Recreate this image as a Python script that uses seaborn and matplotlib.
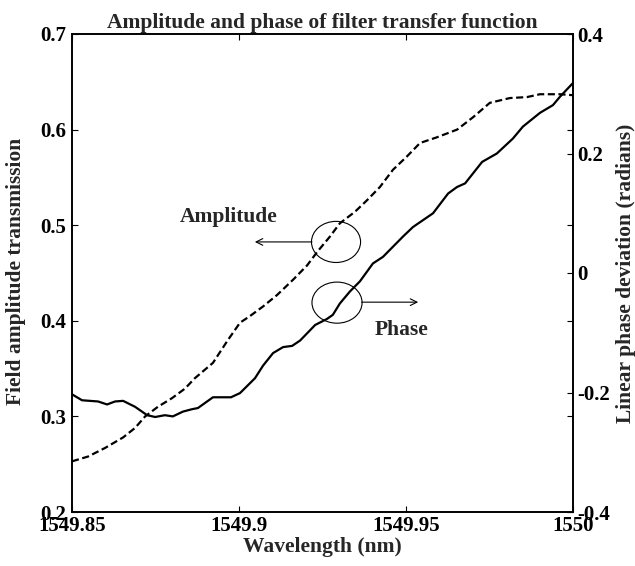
import matplotlib
matplotlib.use("Agg")
import matplotlib.pyplot as plt
from matplotlib.patches import Ellipse
import seaborn as sns
import pandas as pd

# ---------------- data ----------------
amp_wavelength = [1549.8500, 1549.8548, 1549.8599, 1549.8653, 1549.8689, 1549.8719,
                  1549.8757, 1549.8799, 1549.8838, 1549.8868, 1549.8922, 1549.8967,
                  1549.9003, 1549.9033, 1549.9072, 1549.9114, 1549.9162, 1549.9204,
                  1549.9234, 1549.9272, 1549.9302, 1549.9347, 1549.9383, 1549.9422,
                  1549.9461, 1549.9503, 1549.9542, 1549.9593, 1549.9653, 1549.9701,
                  1549.9751, 1549.9811, 1549.9862, 1549.9901, 1549.9961, 1550.0000]
amp_values = [0.253, 0.258, 0.267, 0.278, 0.288, 0.300,
              0.310, 0.319, 0.329, 0.340, 0.356, 0.380,
              0.398, 0.405, 0.415, 0.427, 0.443, 0.458,
              0.472, 0.488, 0.502, 0.514, 0.526, 0.540,
              0.558, 0.572, 0.586, 0.592, 0.600, 0.613,
              0.628, 0.633, 0.634, 0.637, 0.637, 0.636]

phase_wavelength = [1549.8500, 1549.8530, 1549.8578, 1549.8605, 1549.8629, 1549.8653,
                    1549.8689, 1549.8725, 1549.8749, 1549.8778, 1549.8802, 1549.8832,
                    1549.8859, 1549.8877, 1549.8922, 1549.8976, 1549.9003, 1549.9048,
                    1549.9072, 1549.9102, 1549.9132, 1549.9159, 1549.9183, 1549.9228,
                    1549.9263, 1549.9281, 1549.9302, 1549.9332, 1549.9362, 1549.9401,
                    1549.9431, 1549.9491, 1549.9521, 1549.9581, 1549.9626, 1549.9653,
                    1549.9677, 1549.9728, 1549.9772, 1549.9820, 1549.9850, 1549.9901,
                    1549.9940, 1549.9961, 1550.0000]
phase_values = [-0.203, -0.213, -0.215, -0.220, -0.215, -0.214,
                -0.224, -0.238, -0.241, -0.238, -0.240, -0.232,
                -0.228, -0.226, -0.208, -0.208, -0.201, -0.176,
                -0.155, -0.134, -0.124, -0.122, -0.113, -0.087,
                -0.077, -0.070, -0.051, -0.031, -0.014, 0.016,
                0.027, 0.061, 0.077, 0.100, 0.133, 0.144,
                0.150, 0.186, 0.200, 0.225, 0.245, 0.268,
                0.281, 0.295, 0.318]

x_ticks = [1549.85, 1549.9, 1549.95, 1550.0]
x_tick_labels = ["1549.85", "1549.9", "1549.95", "1550"]
left_ticks = [0.2, 0.3, 0.4, 0.5, 0.6, 0.7]
left_tick_labels = ["0.2", "0.3", "0.4", "0.5", "0.6", "0.7"]
right_ticks = [-0.4, -0.2, 0.0, 0.2, 0.4]
right_tick_labels = ["-0.4", "-0.2", "0", "0.2", "0.4"]

title_text = "Amplitude and phase of filter transfer function"
xlabel_text = "Wavelength (nm)"
left_label_text = "Field amplitude transmission"
right_label_text = "Linear phase deviation (radians)"

# ---------------- style ----------------
sns.set_theme(style="white")
plt.rcParams["font.family"] = ["Liberation Serif", "DejaVu Serif"]
plt.rcParams["font.weight"] = "bold"
plt.rcParams["axes.labelweight"] = "bold"
plt.rcParams["axes.titleweight"] = "bold"

amp_df = pd.DataFrame({"wl": amp_wavelength, "amp": amp_values})
phase_df = pd.DataFrame({"wl": phase_wavelength, "phase": phase_values})

fig = plt.figure(figsize=(6.35, 5.66), dpi=100)
W, H = 635, 566
ax_left, ax_right_px, ax_top, ax_bottom = 72, 573, 34, 512
ax = fig.add_axes([ax_left / W, 1 - ax_bottom / H,
                   (ax_right_px - ax_left) / W, (ax_bottom - ax_top) / H])
ax2 = ax.twinx()

sns.lineplot(data=amp_df, x="wl", y="amp", ax=ax, color="black",
             linewidth=1.6, linestyle=(0, (3.2, 1.6)), sort=False)
sns.lineplot(data=phase_df, x="wl", y="phase", ax=ax2, color="black",
             linewidth=1.6, linestyle="-", sort=False)

ax.set_xlim(1549.85, 1550.0)
ax.set_ylim(0.2, 0.7)
ax2.set_ylim(-0.4, 0.4)

FS_TICK = 15
FS = 15.5
ax.set_xticks(x_ticks)
ax.set_xticklabels(x_tick_labels, fontsize=FS_TICK, fontweight="bold")
ax.set_yticks(left_ticks)
ax.set_yticklabels(left_tick_labels, fontsize=FS_TICK, fontweight="bold")
ax2.set_yticks(right_ticks)
ax2.set_yticklabels(right_tick_labels, fontsize=FS_TICK, fontweight="bold")

ax.tick_params(axis="both", direction="in", length=4, width=0.8, colors="black",
               top=True, right=True, bottom=True, left=True, pad=3)
ax.tick_params(axis="y", pad=4)
ax2.tick_params(axis="y", direction="in", length=4, width=0.8, colors="black",
                left=False, right=True, pad=3)

for a in (ax, ax2):
    for s in a.spines.values():
        s.set_color("black")
        s.set_linewidth(1.2)

ax.set_xlabel(xlabel_text, fontsize=FS, fontweight="bold")
ax.set_ylabel(left_label_text, fontsize=FS, fontweight="bold")
ax2.set_ylabel(right_label_text, fontsize=FS, fontweight="bold")
ax.xaxis.set_label_coords(0.5, -0.053)
ax.yaxis.set_label_coords(-0.092, 0.503)
ax2.yaxis.set_label_coords(1.086, 0.5)
ax.set_title(title_text, fontsize=FS, fontweight="bold", pad=4)

# ---------------- annotations ----------------
ax.add_patch(Ellipse((0.527, 0.565), 0.098, 0.086, transform=ax.transAxes,
                     fill=False, edgecolor="black", linewidth=0.8))
ax.add_patch(Ellipse((0.529, 0.438), 0.100, 0.086, transform=ax.transAxes,
                     fill=False, edgecolor="black", linewidth=0.8))
ax.annotate("", xy=(0.365, 0.565), xytext=(0.479, 0.565), xycoords="axes fraction",
            arrowprops=dict(arrowstyle="->", color="black", lw=0.8,
                            shrinkA=0, shrinkB=0, mutation_scale=12))
ax.annotate("", xy=(0.691, 0.439), xytext=(0.578, 0.439), xycoords="axes fraction",
            arrowprops=dict(arrowstyle="->", color="black", lw=0.8,
                            shrinkA=0, shrinkB=0, mutation_scale=12))
ax.text(0.313, 0.618, "Amplitude", transform=ax.transAxes, ha="center", va="center",
        fontsize=FS, fontweight="bold")
ax.text(0.657, 0.381, "Phase", transform=ax.transAxes, ha="center", va="center",
        fontsize=FS, fontweight="bold")

fig.savefig("out.png", dpi=100)
